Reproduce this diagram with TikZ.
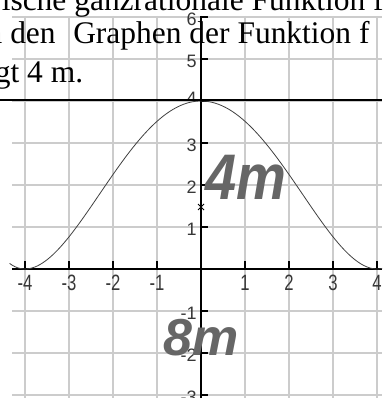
\documentclass[tikz,border=0pt]{standalone}
\usepackage{fontspec}
\usepackage{graphicx}
\setmainfont{Liberation Serif}
\newfontfamily\axfont{Liberation Sans}
\newfontfamily\handfont{Liberation Sans}
\definecolor{gridgray}{RGB}{204,204,204}
\definecolor{handgray}{RGB}{102,102,102}
\definecolor{axlab}{RGB}{55,55,55}
\begin{document}
\begin{tikzpicture}[x=0.75pt,y=-0.75pt,
  gridline/.style={draw=gridgray,line width=0.8pt},
  axisline/.style={draw=black,line width=1pt},
  tickline/.style={draw=black,line width=0.9pt},
  levelline/.style={draw=black,line width=1.5pt},
  curveline/.style={draw=black!75,line width=0.6pt},
  xlab/.style={font=\axfont\fontsize{12.5}{14}\selectfont,text=axlab,inner sep=0pt},
  ylab/.style={font=\axfont\fontsize{13.5}{15}\selectfont,text=axlab,inner sep=0pt,anchor=east},
  maintext/.style={font=\fontsize{23.6}{28}\selectfont,inner sep=0pt,anchor=base west},
  handtext/.style={font=\handfont\bfseries\itshape,text=handgray,inner sep=0pt,anchor=base west}]
\useasboundingbox (0,0) rectangle (382,398);
\clip (0,0) rectangle (382,398);
% grid
\foreach \i in {-4,...,4} \draw[gridline] ({201+44*\i},16) -- ({201+44*\i},398);
\foreach \j in {-3,...,6} \draw[gridline] (12,{269-42*\j}) -- (382,{269-42*\j});
% y labels
\foreach \j in {-3,-2,-1,1,2,3,5,6}
  \node[ylab] (yl\j) at (197,{269-42*\j+2}) {\j};
\begin{scope}
  \clip (150,80) rectangle (210,100);
  \node[ylab] (yl4) at (197,98) {4};
\end{scope}
% x labels
\foreach \i in {-4,-3,-2,-1,1,2,3,4}
  \node[xlab] (xl\i) at ({201+44*\i},283) {\scalebox{1}[1.33]{\i}};
% axes
\coordinate (xa) at (12,269);
\coordinate (xb) at (382,269);
\coordinate (ya) at (201,16);
\coordinate (yb) at (201,398);
\draw[axisline] (xa) -- (xb);
\draw[axisline] (ya) -- (yb);
\foreach \i in {-4,-3,-2,-1,1,2,3,4}
  \draw[tickline] ({201+44*\i},261) -- ({201+44*\i},269);
\foreach \j in {-3,-2,-1,1,2,3,4,5,6}
  \draw[tickline] (201,{269-42*\j}) -- (208,{269-42*\j});
% curve
\begin{scope}[shift={(201,269)},x=33pt,y=31.5pt]
  \draw[curveline] plot[domain=-4.35:4.15,samples=150,smooth] (\x,{(16-\x*\x)^2/64});
\end{scope}
% level line y=4
\coordinate (la) at (0,100);
\coordinate (lb) at (382,100);
\draw[levelline] (la) -- (lb);
% marker
\coordinate (mk) at (201,207);
\draw[black,line width=0.7pt] ([shift={(-3,-3)}]mk) -- ([shift={(3,3)}]mk)
  ([shift={(-3,3)}]mk) -- ([shift={(3,-3)}]mk);
% text
\node[maintext] (t1) at (1.5,11) {ische ganzrationale Funktion f};
\node[maintext] (t2a) at (-13.6,44) {n den};
\node[maintext] (t2b) at (73,44) {Graphen der Funktion f};
\node[maintext] (t3) at (-5.4,83) {gt 4 m.};
% handwriting
\node[handtext,font=\handfont\bfseries\itshape\fontsize{42}{46}\selectfont] (h4) at (205,200) {\scalebox{1}[1.15]{4m}};
\node[handtext,font=\handfont\bfseries\itshape\fontsize{39}{44}\selectfont] (h8) at (163,355) {8m};
\end{tikzpicture}
\end{document}
